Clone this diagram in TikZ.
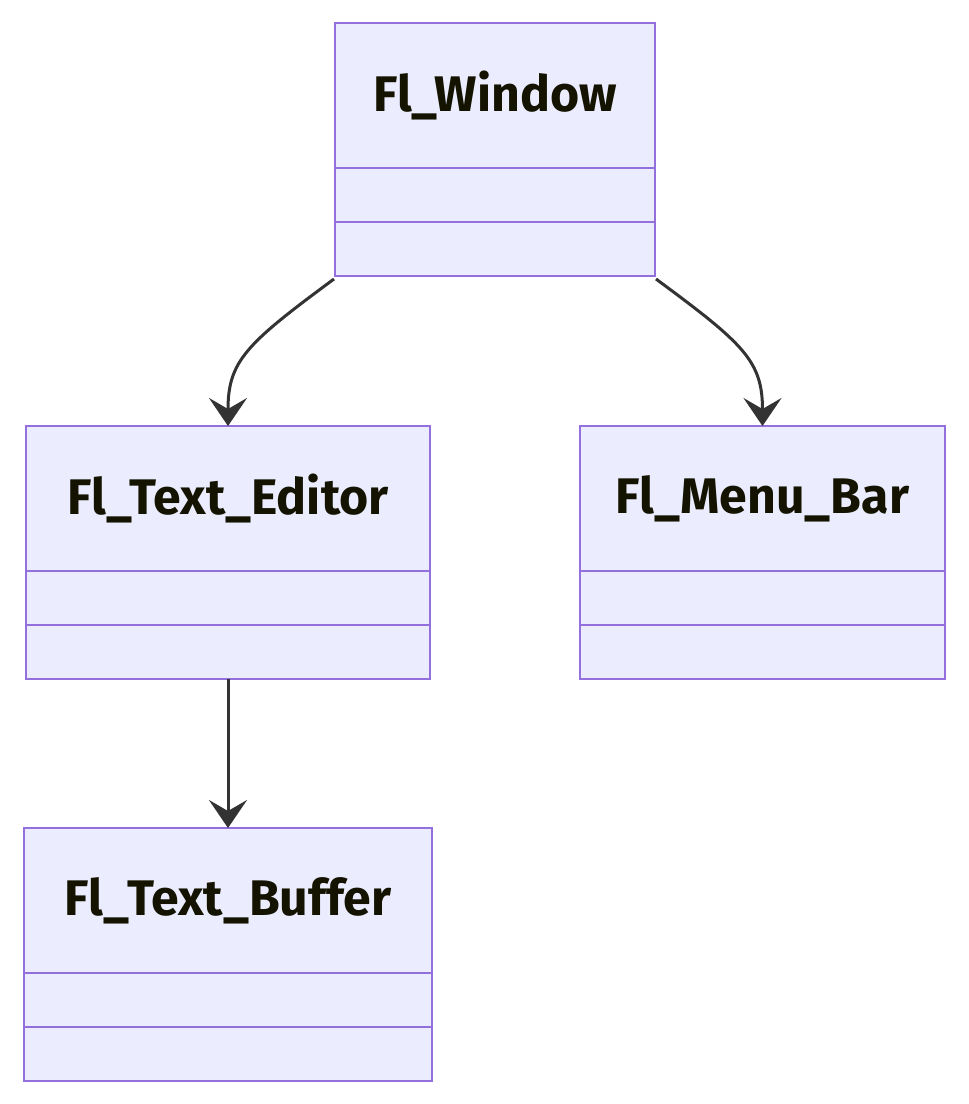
\documentclass[tikz,border=0pt]{standalone}
\usepackage{fontspec}
\setmainfont{Fira Sans}
\usetikzlibrary{arrows.meta}
\definecolor{boxfill}{HTML}{ECECFF}
\definecolor{boxline}{HTML}{9370DB}
\definecolor{edge}{HTML}{333333}
\definecolor{txt}{HTML}{131300}
\tikzset{
  cls/.style={draw=boxline, fill=boxfill, line width=2.6pt, inner sep=0pt, outer sep=0pt, text=txt,
    font=\fontsize{50}{60}\selectfont\bfseries, minimum height=145pt},
  comp/.style={draw=boxline, fill=boxfill, line width=2.6pt, inner sep=0pt, outer sep=0pt, minimum height=54pt},
  dep/.style={draw=edge, line width=3pt, -{Stealth[length=28pt, width=38pt, inset=11pt]}}
}
\begin{document}
\begin{tikzpicture}[x=1pt, y=-1pt]
\useasboundingbox (0,0) rectangle (969,1104);
% Fl_Window
\node[cls, minimum width=320pt] (win) at (495,95.5) {Fl\_Window};
\node[comp, minimum width=320pt, anchor=north] (win1) at (win.south) {};
\node[comp, minimum width=320pt, anchor=north] (win2) at (win1.south) {};
% Fl_Text_Editor
\node[cls, minimum width=404pt] (ed) at (228,498.5) {Fl\_Text\_Editor};
\node[comp, minimum width=404pt, anchor=north] (ed1) at (ed.south) {};
\node[comp, minimum width=404pt, anchor=north] (ed2) at (ed1.south) {};
% Fl_Menu_Bar
\node[cls, minimum width=365pt] (mb) at (762.5,498.5) {Fl\_Menu\_Bar};
\node[comp, minimum width=365pt, anchor=north] (mb1) at (mb.south) {};
\node[comp, minimum width=365pt, anchor=north] (mb2) at (mb1.south) {};
% Fl_Text_Buffer
\node[cls, minimum width=408pt] (buf) at (228,900.5) {Fl\_Text\_Buffer};
\node[comp, minimum width=408pt, anchor=north] (buf1) at (buf.south) {};
\node[comp, minimum width=408pt, anchor=north] (buf2) at (buf1.south) {};
% edges
\draw[dep] ([xshift=-1pt,yshift=-3pt]win2.south west) .. controls +(-88,65) and +(0,-65) .. (ed.north);
\draw[dep] ([xshift=1pt,yshift=-3pt]win2.south east) .. controls +(88,65) and +(0,-65) .. (mb.north);
\draw[dep] (ed2.south) -- (buf.north);
\end{tikzpicture}
\end{document}
